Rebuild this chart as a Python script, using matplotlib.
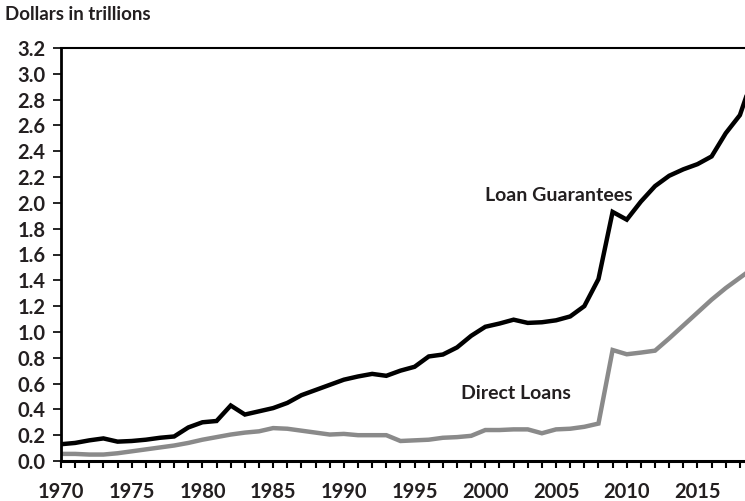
import matplotlib
matplotlib.use("Agg")
import matplotlib.pyplot as plt
from matplotlib.ticker import MultipleLocator, FixedLocator

years = list(range(1970, 2020))
loan_guarantees = [0.13, 0.14, 0.16, 0.175, 0.15, 0.155, 0.165, 0.18, 0.19, 0.26,
                   0.30, 0.31, 0.43, 0.36, 0.385, 0.41, 0.45, 0.51, 0.55, 0.59,
                   0.63, 0.655, 0.675, 0.66, 0.70, 0.73, 0.81, 0.825, 0.88, 0.97,
                   1.04, 1.065, 1.095, 1.07, 1.075, 1.09, 1.12, 1.20, 1.41, 1.93,
                   1.87, 2.01, 2.13, 2.21, 2.26, 2.30, 2.36, 2.54, 2.68, 3.0]
direct_loans = [0.055, 0.055, 0.05, 0.05, 0.06, 0.075, 0.09, 0.105, 0.12, 0.14,
                0.165, 0.185, 0.205, 0.22, 0.23, 0.255, 0.25, 0.235, 0.22, 0.205,
                0.21, 0.20, 0.20, 0.20, 0.155, 0.16, 0.165, 0.18, 0.185, 0.195,
                0.24, 0.24, 0.245, 0.245, 0.215, 0.245, 0.25, 0.265, 0.29, 0.86,
                0.827, 0.84, 0.855, 0.95, 1.05, 1.15, 1.25, 1.34, 1.42, 1.50]
year_labels = [1970, 1975, 1980, 1985, 1990, 1995, 2000, 2005, 2010, 2015]
y_ticks = [0.0, 0.2, 0.4, 0.6, 0.8, 1.0, 1.2, 1.4, 1.6, 1.8, 2.0, 2.2, 2.4, 2.6, 2.8, 3.0, 3.2]

plt.rcParams['font.family'] = ['Lato', 'DejaVu Sans']
TEXT = '#231f20'

W, H = 745, 501
fig = plt.figure(figsize=(W / 100, H / 100), dpi=100)
left, right, top, bottom = 61, 745, 48, 461
ax = fig.add_axes([left / W, 1 - bottom / H, (right - left) / W, (bottom - top) / H])

ax.plot(years, loan_guarantees, color='black', lw=3.2, solid_joinstyle='miter', clip_on=True)
ax.plot(years, direct_loans, color='#8a8a8a', lw=3.2, solid_joinstyle='miter', clip_on=True)

ax.set_xlim(1970, 2018.36)
ax.set_ylim(0, 3.2)

ax.xaxis.set_major_locator(FixedLocator(year_labels))
ax.xaxis.set_minor_locator(MultipleLocator(1))
ax.set_xticklabels([str(y) for y in year_labels])
ax.set_yticks(y_ticks)
ax.set_yticklabels([f"{v:.1f}" for v in y_ticks])

ax.tick_params(axis='x', which='both', direction='out', length=5, width=1.5,
               color='black', pad=10, labelsize=14.5, labelcolor=TEXT)
ax.tick_params(axis='y', which='major', direction='out', length=6, width=1.2,
               color='black', pad=5, labelsize=14.5, labelcolor=TEXT)
for lab in ax.get_xticklabels() + ax.get_yticklabels():
    lab.set_fontweight('bold')

ax.spines['right'].set_visible(False)
ax.spines['left'].set_linewidth(2)
ax.spines['bottom'].set_linewidth(2.2)
ax.spines['top'].set_linewidth(1.5)

ax.text(2005.2, 2.06, 'Loan Guarantees', ha='center', va='center', fontsize=14,
        fontweight='bold', color=TEXT)
ax.text(2002.2, 0.52, 'Direct Loans', ha='center', va='center', fontsize=14,
        fontweight='bold', color=TEXT)

fig.text(5 / W, 1 - 15 / H, 'Dollars in trillions', ha='left', va='center',
         fontsize=13.5, fontweight='bold', color=TEXT)

fig.savefig('out.png', dpi=100)
